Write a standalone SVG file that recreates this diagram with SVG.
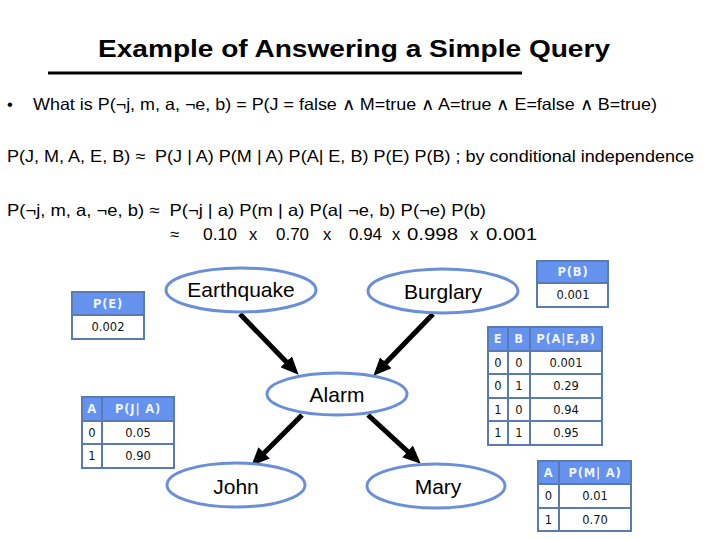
<svg xmlns="http://www.w3.org/2000/svg" width="720" height="540" viewBox="0 0 720 540">
<style>
.t{font-family:"Liberation Sans",Arial,sans-serif;fill:#000}
.title{font-size:24px;font-weight:bold}
.body{font-size:16.5px}
.node{font-size:21px;text-anchor:middle}
.ell{fill:#fff;stroke:#6a8fd8;stroke-width:3}
.hd{fill:#6592ee;stroke:#5a7ab4;stroke-width:2}
.cell{fill:#fff;stroke:#5a7ab4;stroke-width:2}
.ht{font-family:"DejaVu Sans",Verdana,sans-serif;font-size:11.5px;font-weight:bold;fill:#eef3ff;text-anchor:middle;letter-spacing:0.8px}
.ct{font-family:"DejaVu Sans",Verdana,sans-serif;font-size:11.5px;fill:#111;text-anchor:middle}
.edge{stroke:#000;stroke-width:5;fill:none}
</style>
<defs>
<marker id="arr" markerUnits="userSpaceOnUse" markerWidth="18" markerHeight="16" viewBox="0 0 18 16" refX="7" refY="8" orient="auto">
<path d="M0,0 L18,8 L0,16 z" fill="#000"/>
</marker>
</defs>
<rect width="720" height="540" fill="#fff"/>

<g id="header">
<text class="t title" x="98" y="57" textLength="512" lengthAdjust="spacingAndGlyphs">Example of Answering a Simple Query</text>
<line x1="48" y1="73" x2="522" y2="73" stroke="#000" stroke-width="3"/>
<text class="t body" x="7" y="110">•</text>
<text class="t body" x="33" y="110" textLength="624" lengthAdjust="spacingAndGlyphs">What is P(¬j, m, a, ¬e, b) = P(J = false ∧ M=true ∧ A=true ∧ E=false ∧ B=true)</text>
<text class="t body" x="7" y="162" textLength="687" lengthAdjust="spacingAndGlyphs" xml:space="preserve">P(J, M, A, E, B) ≈  P(J | A) P(M | A) P(A| E, B) P(E) P(B) ; by conditional independence</text>
<text class="t body" x="7" y="216" textLength="479" lengthAdjust="spacingAndGlyphs" xml:space="preserve">P(¬j, m, a, ¬e, b) ≈  P(¬j | a) P(m | a) P(a| ¬e, b) P(¬e) P(b)</text>
<g class="t body">
<text x="170" y="240">≈</text>
<text x="203" y="240" textLength="34" lengthAdjust="spacingAndGlyphs">0.10</text>
<text x="249" y="240">x</text>
<text x="276" y="240" textLength="33" lengthAdjust="spacingAndGlyphs">0.70</text>
<text x="323" y="240">x</text>
<text x="349" y="240" textLength="33" lengthAdjust="spacingAndGlyphs">0.94</text>
<text x="392" y="240">x</text>
<text x="407" y="240" textLength="51" lengthAdjust="spacingAndGlyphs">0.998</text>
<text x="470" y="240">x</text>
<text x="486" y="240" textLength="51" lengthAdjust="spacingAndGlyphs">0.001</text>
</g>
</g>

<g id="connectors">
<line class="edge" x1="240" y1="314" x2="291" y2="366.8" marker-end="url(#arr)"/>
<line class="edge" x1="433" y1="314" x2="381" y2="367.8" marker-end="url(#arr)"/>
<line class="edge" x1="302" y1="415" x2="259.1" y2="457.9" marker-end="url(#arr)"/>
<line class="edge" x1="368" y1="415" x2="412.7" y2="456.2" marker-end="url(#arr)"/>
</g>

<g id="earthquake">
<ellipse class="ell" cx="241" cy="290" rx="75" ry="22"/>
<text class="t node" x="241" y="297">Earthquake</text>
</g>
<g id="burglary">
<ellipse class="ell" cx="443" cy="291" rx="75" ry="22"/>
<text class="t node" x="443" y="299">Burglary</text>
</g>
<g id="alarm">
<ellipse class="ell" cx="337" cy="394" rx="70" ry="21"/>
<text class="t node" x="337" y="402">Alarm</text>
</g>
<g id="john">
<ellipse class="ell" cx="236" cy="485" rx="69" ry="22"/>
<text class="t node" x="236" y="494">John</text>
</g>
<g id="mary">
<ellipse class="ell" cx="436" cy="486" rx="69" ry="22"/>
<text class="t node" x="438" y="494">Mary</text>
</g>

<g id="table-pe">
<rect class="hd" x="72" y="292" width="72" height="23"/>
<rect class="cell" x="72" y="315" width="72" height="24"/>
<text class="ht" x="108" y="308">P(E)</text>
<text class="ct" x="108" y="331">0.002</text>
</g>

<g id="table-pb">
<rect class="hd" x="537" y="261" width="71" height="22"/>
<rect class="cell" x="537" y="283" width="71" height="24"/>
<text class="ht" x="573" y="276">P(B)</text>
<text class="ct" x="573" y="299">0.001</text>
</g>

<g id="table-pa">
<rect class="hd" x="488" y="327" width="20" height="24"/>
<rect class="hd" x="508" y="327" width="22" height="24"/>
<rect class="hd" x="530" y="327" width="72" height="24"/>
<text class="ht" x="498" y="343">E</text>
<text class="ht" x="519" y="343">B</text>
<text class="ht" x="566" y="343">P(A|E,B)</text>
<rect class="cell" x="488" y="351" width="20" height="23"/><rect class="cell" x="508" y="351" width="22" height="23"/><rect class="cell" x="530" y="351" width="72" height="23"/>
<rect class="cell" x="488" y="374" width="20" height="24"/><rect class="cell" x="508" y="374" width="22" height="24"/><rect class="cell" x="530" y="374" width="72" height="24"/>
<rect class="cell" x="488" y="398" width="20" height="23"/><rect class="cell" x="508" y="398" width="22" height="23"/><rect class="cell" x="530" y="398" width="72" height="23"/>
<rect class="cell" x="488" y="421" width="20" height="24"/><rect class="cell" x="508" y="421" width="22" height="24"/><rect class="cell" x="530" y="421" width="72" height="24"/>
<text class="ct" x="498" y="367">0</text><text class="ct" x="519" y="367">0</text><text class="ct" x="566" y="367">0.001</text>
<text class="ct" x="498" y="390">0</text><text class="ct" x="519" y="390">1</text><text class="ct" x="566" y="390">0.29</text>
<text class="ct" x="498" y="414">1</text><text class="ct" x="519" y="414">0</text><text class="ct" x="566" y="414">0.94</text>
<text class="ct" x="498" y="437">1</text><text class="ct" x="519" y="437">1</text><text class="ct" x="566" y="437">0.95</text>
</g>

<g id="table-pj">
<rect class="hd" x="82" y="397" width="20" height="24"/>
<rect class="hd" x="102" y="397" width="72" height="24"/>
<text class="ht" x="92" y="413">A</text>
<text class="ht" x="138" y="413">P(J| A)</text>
<rect class="cell" x="82" y="421" width="20" height="23"/><rect class="cell" x="102" y="421" width="72" height="23"/>
<rect class="cell" x="82" y="444" width="20" height="24"/><rect class="cell" x="102" y="444" width="72" height="24"/>
<text class="ct" x="92" y="437">0</text><text class="ct" x="138" y="437">0.05</text>
<text class="ct" x="92" y="460">1</text><text class="ct" x="138" y="460">0.90</text>
</g>

<g id="table-pm">
<rect class="hd" x="538" y="461" width="21" height="23"/>
<rect class="hd" x="559" y="461" width="72" height="23"/>
<text class="ht" x="548.5" y="477">A</text>
<text class="ht" x="595" y="477">P(M| A)</text>
<rect class="cell" x="538" y="484" width="21" height="24"/><rect class="cell" x="559" y="484" width="72" height="24"/>
<rect class="cell" x="538" y="508" width="21" height="23"/><rect class="cell" x="559" y="508" width="72" height="23"/>
<text class="ct" x="548.5" y="500">0</text><text class="ct" x="595" y="500">0.01</text>
<text class="ct" x="548.5" y="524">1</text><text class="ct" x="595" y="524">0.70</text>
</g>
</svg>
